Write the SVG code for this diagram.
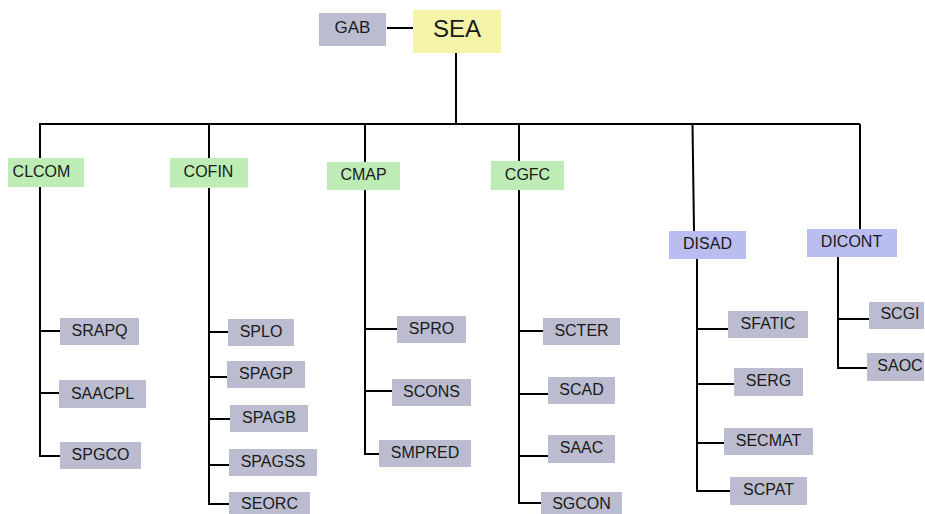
<svg xmlns="http://www.w3.org/2000/svg" width="925" height="514" viewBox="0 0 925 514">
  <style>
    .lbl { font-family: "Liberation Sans", Arial, sans-serif; font-size: 16px; fill: #1a1a1a; text-anchor: middle; }
    .big { font-size: 24px; }
    .mid { font-size: 17px; }
    .unit { fill: #bbbccf; }
    .head { fill: #f5f3a9; }
    .coord { fill: #bdecb4; }
    .dir { fill: #b9bdef; }
    .wire { fill: none; stroke: #000; stroke-width: 2; }
  </style>
  <rect width="925" height="514" fill="#fff"/>

  <g id="connectors" class="wire">
    <path d="M387,28 H413"/>
    <path d="M456,53 V124"/>
    <path d="M39,124 H860"/>
    <!-- CLCOM branch -->
    <path d="M40,124 V158"/>
    <path d="M40,187 V456 H60"/>
    <path d="M40,331 H60"/>
    <path d="M40,393 H59"/>
    <!-- COFIN branch -->
    <path d="M209,124 V158"/>
    <path d="M209,188 V504 H229"/>
    <path d="M209,332 H228"/>
    <path d="M209,377 H227"/>
    <path d="M209,419 H230"/>
    <path d="M209,465 H229"/>
    <!-- CMAP branch -->
    <path d="M365,124 V162"/>
    <path d="M365,190 V454 H379"/>
    <path d="M365,329 H397"/>
    <path d="M365,391 H392"/>
    <!-- CGFC branch -->
    <path d="M519,124 V161"/>
    <path d="M519,190 V503 H541"/>
    <path d="M519,331 H543"/>
    <path d="M519,394 H548"/>
    <path d="M519,456 H548"/>
    <!-- DISAD branch -->
    <path d="M692.5,124 L694,231"/>
    <path d="M697,259 V491 H730"/>
    <path d="M697,329 H728"/>
    <path d="M697,384 H734"/>
    <path d="M697,443 H724"/>
    <!-- DICONT branch -->
    <path d="M860,124 V229"/>
    <path d="M838,257 V368 H867"/>
    <path d="M838,319 H869"/>
  </g>

  <g id="GAB"><rect class="unit" x="319" y="13" width="67" height="33"/><text class="lbl mid" x="352.5" y="33">GAB</text></g>
  <g id="SEA"><rect class="head" x="413" y="10" width="88" height="43"/><text class="lbl big" x="457" y="37">SEA</text></g>

  <g id="CLCOM"><rect class="coord" x="8" y="158" width="76" height="29"/><text class="lbl" x="41.5" y="177">CLCOM</text></g>
  <g id="COFIN"><rect class="coord" x="170" y="158" width="78" height="29.5"/><text class="lbl" x="208.5" y="176.5">COFIN</text></g>
  <g id="CMAP"><rect class="coord" x="327" y="162" width="73" height="28"/><text class="lbl" x="363.5" y="179.5">CMAP</text></g>
  <g id="CGFC"><rect class="coord" x="491" y="161" width="73" height="29"/><text class="lbl" x="527.5" y="179.5">CGFC</text></g>
  <g id="DISAD"><rect class="dir" x="669" y="231" width="77" height="28"/><text class="lbl" x="707.5" y="248.5">DISAD</text></g>
  <g id="DICONT"><rect class="dir" x="807" y="229" width="90" height="28"/><text class="lbl" x="851.5" y="247">DICONT</text></g>

  <g id="SRAPQ"><rect class="unit" x="60" y="318" width="79" height="27"/><text class="lbl" x="99.5" y="336">SRAPQ</text></g>
  <g id="SAACPL"><rect class="unit" x="59" y="380" width="87" height="28"/><text class="lbl" x="102.5" y="398.5">SAACPL</text></g>
  <g id="SPGCO"><rect class="unit" x="60" y="442" width="81" height="27"/><text class="lbl" x="100.5" y="460">SPGCO</text></g>

  <g id="SPLO"><rect class="unit" x="228" y="319" width="66" height="27"/><text class="lbl" x="261" y="337">SPLO</text></g>
  <g id="SPAGP"><rect class="unit" x="227" y="361" width="78" height="27"/><text class="lbl" x="266" y="379">SPAGP</text></g>
  <g id="SPAGB"><rect class="unit" x="230" y="405" width="78" height="27"/><text class="lbl" x="269" y="423">SPAGB</text></g>
  <g id="SPAGSS"><rect class="unit" x="229" y="449" width="88" height="27"/><text class="lbl" x="273" y="467">SPAGSS</text></g>
  <g id="SEORC"><rect class="unit" x="229" y="492" width="81" height="23"/><text class="lbl" x="269.5" y="508.5">SEORC</text></g>

  <g id="SPRO"><rect class="unit" x="397" y="316" width="69" height="27"/><text class="lbl" x="431.5" y="334">SPRO</text></g>
  <g id="SCONS"><rect class="unit" x="392" y="379" width="79" height="27"/><text class="lbl" x="431.5" y="397">SCONS</text></g>
  <g id="SMPRED"><rect class="unit" x="379" y="440" width="92" height="27"/><text class="lbl" x="425" y="458">SMPRED</text></g>

  <g id="SCTER"><rect class="unit" x="543" y="318" width="77" height="27"/><text class="lbl" x="581.5" y="336">SCTER</text></g>
  <g id="SCAD"><rect class="unit" x="548" y="377" width="67" height="27"/><text class="lbl" x="581.5" y="394.5">SCAD</text></g>
  <g id="SAAC"><rect class="unit" x="548" y="435" width="67" height="28"/><text class="lbl" x="581.5" y="453">SAAC</text></g>
  <g id="SGCON"><rect class="unit" x="541" y="492" width="81" height="23"/><text class="lbl" x="581.5" y="508.5">SGCON</text></g>

  <g id="SFATIC"><rect class="unit" x="728" y="311" width="80" height="27"/><text class="lbl" x="768" y="329">SFATIC</text></g>
  <g id="SERG"><rect class="unit" x="734" y="368" width="69" height="28"/><text class="lbl" x="768.5" y="386">SERG</text></g>
  <g id="SECMAT"><rect class="unit" x="724" y="428" width="89" height="27"/><text class="lbl" x="768.5" y="445.5">SECMAT</text></g>
  <g id="SCPAT"><rect class="unit" x="730" y="477" width="77" height="28"/><text class="lbl" x="768.5" y="495">SCPAT</text></g>

  <g id="SCGI"><rect class="unit" x="869" y="302" width="55" height="27"/><text class="lbl" x="900" y="318.5">SCGI</text></g>
  <g id="SAOC"><rect class="unit" x="867" y="353" width="57" height="28"/><text class="lbl" x="900" y="371">SAOC</text></g>
</svg>
